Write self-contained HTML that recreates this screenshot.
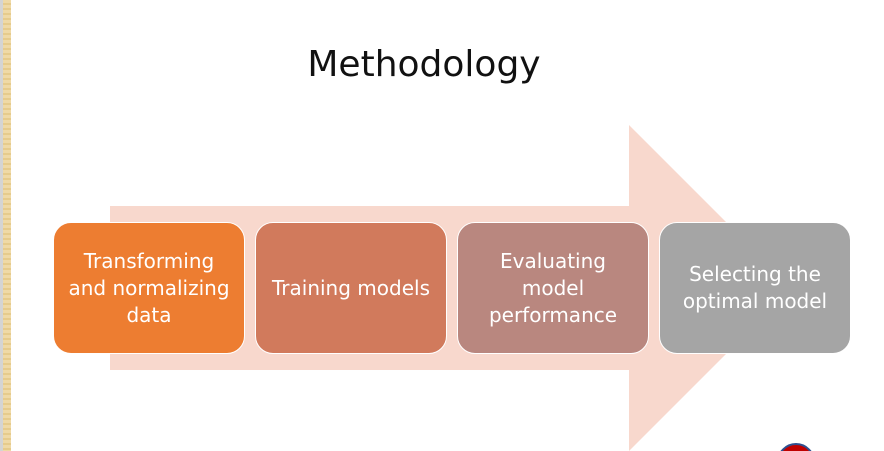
<!DOCTYPE html>
<html><head><style>
html,body{margin:0;width:884px;height:451px;overflow:hidden;background:#fff;position:relative;font-family:"Liberation Sans",sans-serif}
.strip{position:absolute;left:0;top:0;width:3px;height:451px;background:#d4d4d4}
.tan{position:absolute;left:3px;top:0;width:8px;height:451px;background:repeating-linear-gradient(180deg,#efd9a6 0 3px,#e6cb8c 3px 5px)}
.t{position:absolute;left:0;width:848px;text-align:center;top:44px;font-size:36px;color:#111;font-family:"DejaVu Sans","Liberation Sans",sans-serif;font-weight:normal}
.b{position:absolute;top:222px;width:190px;height:130px;border-radius:18px;border:1px solid #fff;color:#fff;line-height:27px;display:flex;align-items:center;justify-content:center;text-align:center;font-family:"DejaVu Sans","Liberation Sans",sans-serif;font-size:20px}
</style></head><body>
<div class="strip"></div><div class="tan"></div>
<div class="t">Methodology</div>
<svg width="884" height="451" style="position:absolute;left:0;top:0;overflow:hidden">
<polygon points="110,206 629,206 629,125 792,288 629,451 629,370 110,370" fill="#f8d8cd"/>
<circle cx="796" cy="462" r="18" fill="#c00000" stroke="#2f4f8f" stroke-width="2"/>
</svg>
<div class="b" style="left:53px;background:#ed7d31">Transforming<br>and normalizing<br>data</div>
<div class="b" style="left:255px;background:#d17a5c">Training models</div>
<div class="b" style="left:457px;background:#b9877f">Evaluating<br>model<br>performance</div>
<div class="b" style="left:659px;background:#a5a5a5">Selecting the<br>optimal model</div>
</body></html>
